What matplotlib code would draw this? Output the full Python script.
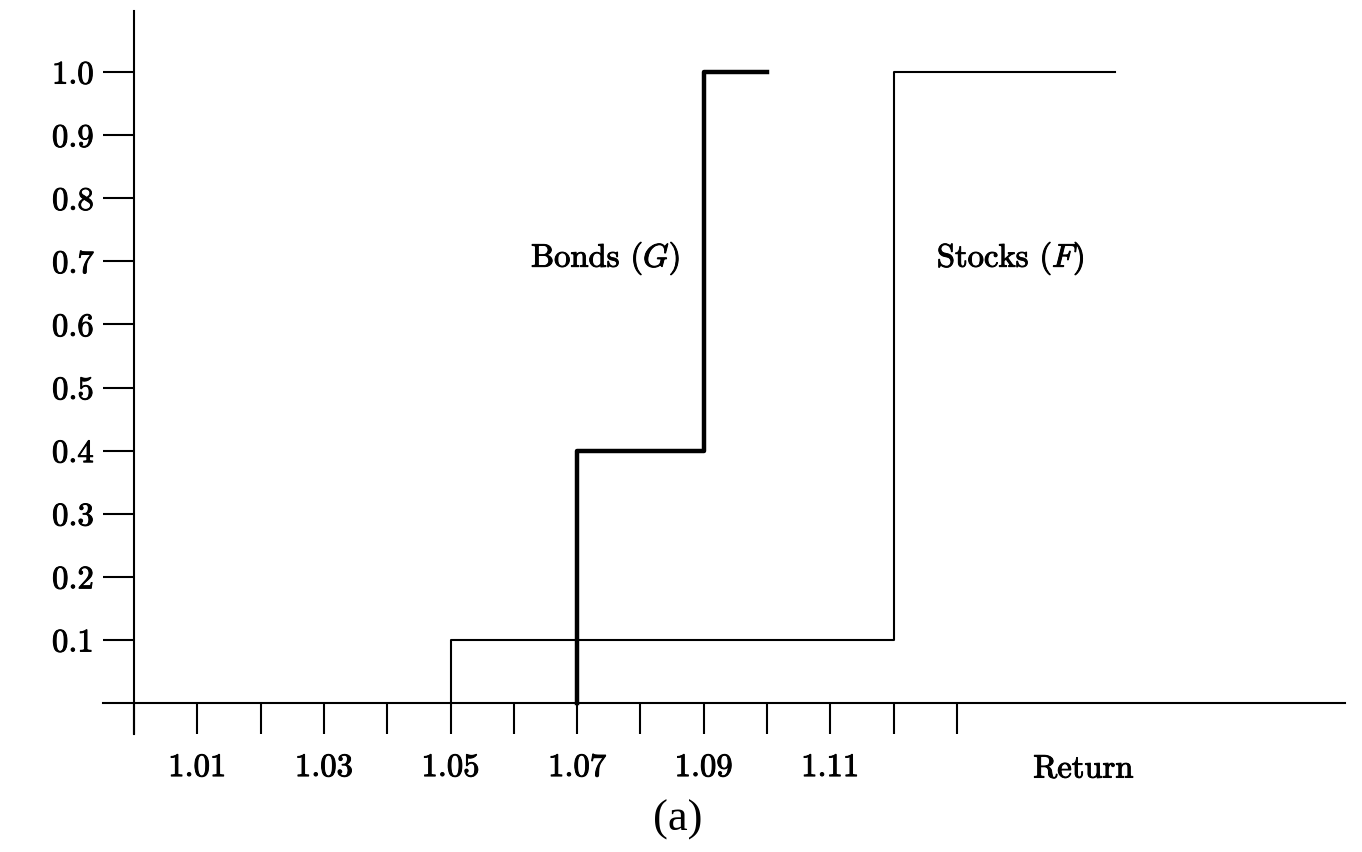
import matplotlib
matplotlib.use("Agg")
import matplotlib.pyplot as plt
import matplotlib.patheffects as pe

plt.rcParams['font.family'] = 'cmr10'
plt.rcParams['mathtext.fontset'] = 'cm'
plt.rcParams['axes.formatter.use_mathtext'] = True

# step CDFs (return, cumulative probability)
bonds_return = [1.07, 1.07, 1.09, 1.10]
bonds_cdf = [0.0, 0.4, 1.0, 1.0]
stocks_return = [1.05, 1.05, 1.12, 1.155]
stocks_cdf = [0.0, 0.1, 1.0, 1.0]

xtick_vals = [1.00 + 0.01 * i for i in range(14)]
xtick_labels = ['', '1.01', '', '1.03', '', '1.05', '', '1.07', '', '1.09', '', '1.11', '', '']
ytick_vals = [0.1, 0.2, 0.3, 0.4, 0.5, 0.6, 0.7, 0.8, 0.9, 1.0]
ytick_labels = ['0.1', '0.2', '0.3', '0.4', '0.5', '0.6', '0.7', '0.8', '0.9', '1.0']

W, H = 1362, 853
fig = plt.figure(figsize=(W / 100, H / 100), dpi=100)
# axes box in pixels: left 103, right 1345, top 12, bottom 735
ax = fig.add_axes([103 / W, 1 - 735 / H, (1345 - 103) / W, (735 - 12) / H])

ax.set_xlim(0.99510, 1.19131)
ax.set_ylim(-0.0491, 1.0967)

ax.step(stocks_return, stocks_cdf, where='post', color='black', lw=1.5)
ax.step(bonds_return, bonds_cdf, where='post', color='black', lw=3.2)

for s in ['top', 'right']:
    ax.spines[s].set_visible(False)
ax.spines['left'].set_position(('data', 1.0))
ax.spines['bottom'].set_position(('data', 0.0))
ax.spines['left'].set_linewidth(1.5)
ax.spines['bottom'].set_linewidth(1.5)

fs = 23.5
bold = [pe.withStroke(linewidth=0.7, foreground='black')]

ax.set_xticks(xtick_vals)
ax.set_xticklabels(xtick_labels)
ax.set_yticks(ytick_vals)
ax.set_yticklabels(ytick_labels)
ax.tick_params(axis='x', direction='out', length=22, width=1.5, pad=14, labelsize=fs)
ax.tick_params(axis='y', direction='out', length=22, width=1.5, pad=7, labelsize=fs)
for lab in ax.get_xticklabels() + ax.get_yticklabels():
    lab.set_path_effects(bold)

ax.text(1.150, -0.1046, 'Return', ha='center', va='center', fontsize=fs, path_effects=bold)
ax.text(1.0745, 0.705, 'Bonds ($G$)', ha='center', va='center', fontsize=fs, path_effects=bold)
ax.text(1.1385, 0.705, 'Stocks ($F$)', ha='center', va='center', fontsize=fs, path_effects=bold)

fig.text(678 / W, 1 - 820 / H, '(a)', ha='center', va='center', fontsize=32,
         family='Liberation Serif')

fig.savefig('out.png', dpi=100)
